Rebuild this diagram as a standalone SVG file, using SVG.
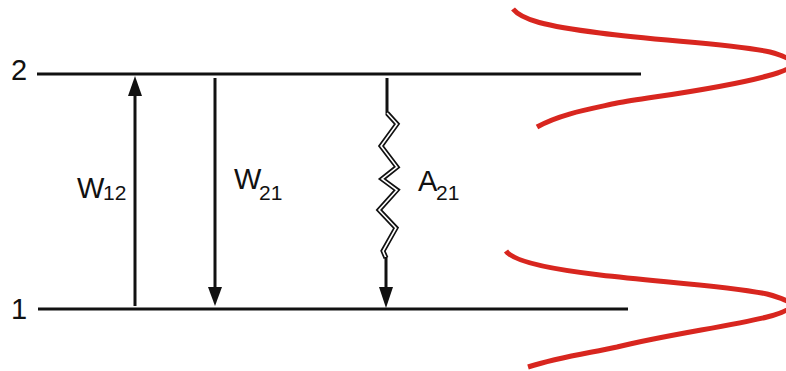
<svg xmlns="http://www.w3.org/2000/svg" width="786" height="371" viewBox="0 0 786 371">
<style>
.lvl{stroke:#111;stroke-width:3;fill:none}
.arr{stroke:#111;stroke-width:3;fill:none}
.head{fill:#111;stroke:none}
.t{font-family:"Liberation Sans",Arial,sans-serif;fill:#111}
.big{font-size:29px}
.sub{font-size:21px}
.red{stroke:#d8261f;stroke-width:5;fill:none;stroke-linecap:butt}
</style>
<rect width="786" height="371" fill="#fff"/>
<g id="level2">
<line class="lvl" x1="37" y1="74" x2="641" y2="74"/>
<text class="t big" x="11" y="80">2</text>
</g>
<g id="level1">
<line class="lvl" x1="38" y1="309" x2="628" y2="309"/>
<text class="t big" x="11" y="319">1</text>
</g>
<g id="connectors">
<g id="W12">
<line class="arr" x1="135" y1="306" x2="135" y2="92"/>
<polygon class="head" points="135,76 128,96 142,96"/>
<text class="t big" x="77" y="198">W</text><text class="t sub" x="103" y="200">12</text>
</g>
<g id="W21">
<line class="arr" x1="215" y1="78" x2="215" y2="290"/>
<polygon class="head" points="215,306 208,287 222,287"/>
<text class="t big" x="234" y="189">W</text><text class="t sub" x="259" y="200">21</text>
</g>
<g id="A21">
<line class="arr" x1="387" y1="78" x2="387" y2="114"/>
<polyline points="387,113 397,124 381,146 397,167 382,179 397,190 379,210 396,228 383,251 386,258" fill="none" stroke="#111" stroke-width="5" stroke-linejoin="miter"/>
<polyline points="387,113 397,124 381,146 397,167 382,179 397,190 379,210 396,228 383,251 386,258" fill="none" stroke="#fff" stroke-width="1.6" stroke-linejoin="miter"/>
<line class="arr" x1="386" y1="257" x2="386" y2="292"/>
<polygon class="head" points="386,308 379,287 393,287"/>
<text class="t big" x="418" y="191">A</text><text class="t sub" x="436" y="200">21</text>
</g>
</g>
<g id="profile2">
<path class="red" d="M513,9 C522,20 545,26 600,33 C660,41 735,44 770,52 C785,56 792,60 792,64 C792,68 782,72 767,76 C720,89 650,97 617,103 C590,109 560,114 537,127"/>
</g>
<g id="profile1">
<path class="red" d="M506,251 C512,260 540,268 600,275 C660,282 730,286 767,294 C782,298 791,302 791,305 C791,309 782,313 767,317 C730,326 660,336 617,347 C590,353 560,357 528,367"/>
</g>
</svg>
